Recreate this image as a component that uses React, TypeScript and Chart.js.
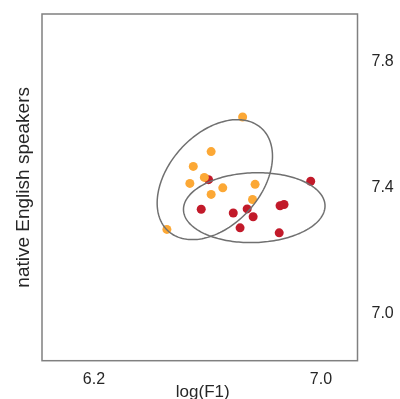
import React, { useEffect, useRef } from "react";
import { Chart, registerables } from "chart.js";
Chart.register(...registerables);

const orangeX = [6.724, 6.613, 6.55, 6.589, 6.538, 6.654, 6.768, 6.613, 6.759, 6.457];
const orangeY = [7.619, 7.509, 7.462, 7.427, 7.408, 7.394, 7.405, 7.373, 7.357, 7.262];
const redX = [6.604, 6.964, 6.578, 6.691, 6.74, 6.761, 6.715, 6.856, 6.87, 6.853];
const redY = [7.42, 7.415, 7.326, 7.314, 7.327, 7.302, 7.267, 7.337, 7.341, 7.251];
const xTicks = [6.2, 7.0];
const yTicks = [7.0, 7.4, 7.8];
const xLabel = "log(F1)";
const yLabel = "native English speakers";
// ellipses: center x, center y, spread x, spread y, correlation
const ellipseOrange = [6.626, 7.42, 0.2033, 0.1905, 0.39];
const ellipseRed = [6.765, 7.331, 0.2495, 0.111, 0.05];
const xRange = [6.0167, 7.129];
const yRange = [6.845, 7.946];

const ORANGE = "#fca835";
const RED = "#c21a2a";
const TEXT = "#262626";
const FONT = "'Liberation Sans', Arial, sans-serif";

const overlay = {
  id: "overlay",
  afterDatasetsDraw(chart: any) {
    const { ctx, chartArea, scales } = chart;
    const xs = scales.x;
    const ys = scales.y;
    ctx.save();
    ctx.beginPath();
    ctx.rect(chartArea.left, chartArea.top, chartArea.right - chartArea.left, chartArea.bottom - chartArea.top);
    ctx.clip();
    for (const e of [ellipseOrange, ellipseRed]) {
      const [cx, cy, sx, sy, r] = e;
      ctx.beginPath();
      const n = 200;
      for (let i = 0; i <= n; i++) {
        const t = (i / n) * Math.PI * 2;
        const dx = cx + sx * Math.cos(t);
        const dy = cy + sy * (r * Math.cos(t) + Math.sqrt(1 - r * r) * Math.sin(t));
        const px = xs.getPixelForValue(dx);
        const py = ys.getPixelForValue(dy);
        if (i === 0) ctx.moveTo(px, py);
        else ctx.lineTo(px, py);
      }
      ctx.closePath();
      ctx.strokeStyle = "#707070";
      ctx.lineWidth = 1.5;
      ctx.stroke();
    }
    ctx.restore();

    ctx.save();
    ctx.strokeStyle = "#808080";
    ctx.lineWidth = 1.5;
    ctx.strokeRect(chartArea.left, chartArea.top, chartArea.right - chartArea.left, chartArea.bottom - chartArea.top);
    ctx.fillStyle = TEXT;
    ctx.font = `17px ${FONT}`;
    ctx.textAlign = "center";
    ctx.textBaseline = "middle";
    ctx.fillText(xLabel, (chartArea.left + chartArea.right) / 2 + 3, 392);
    ctx.translate(24, (chartArea.top + chartArea.bottom) / 2);
    ctx.rotate(-Math.PI / 2);
    ctx.font = `19px ${FONT}`;
    ctx.fillText(yLabel, 0, 0);
    ctx.restore();
  },
};

export default function App() {
  const ref = useRef<HTMLCanvasElement>(null);
  useEffect(() => {
    if (!ref.current) return;
    const chart = new Chart(ref.current, {
      type: "scatter",
      data: {
        datasets: [
          {
            label: "orange",
            data: orangeX.map((x, i) => ({ x, y: orangeY[i] })),
            backgroundColor: ORANGE,
            borderWidth: 0,
            pointRadius: 4.5,
          },
          {
            label: "red",
            data: redX.map((x, i) => ({ x, y: redY[i] })),
            backgroundColor: RED,
            borderWidth: 0,
            pointRadius: 4.5,
          },
        ],
      },
      options: {
        responsive: false,
        animation: false,
        devicePixelRatio: 1,
        layout: { padding: { left: 42, top: 14, right: 0, bottom: 0 } },
        plugins: { legend: { display: false }, tooltip: { enabled: false } },
        scales: {
          x: {
            type: "linear",
            min: xRange[0],
            max: xRange[1],
            grid: { display: false, drawTicks: false },
            border: { display: false },
            ticks: {
              color: TEXT,
              font: { size: 16, family: FONT },
              padding: 9,
              maxRotation: 0,
              autoSkip: false,
              callback: (v: any) => Number(v).toFixed(1),
            },
            afterBuildTicks: (s: any) => {
              s.ticks = xTicks.map((v) => ({ value: v }));
            },
            afterFit: (s: any) => {
              s.height = 38.3;
              s.paddingLeft = 0;
              s.paddingRight = 0;
              s.paddingTop = 0;
              s.paddingBottom = 0;
            },
          },
          y: {
            type: "linear",
            position: "right",
            min: yRange[0],
            max: yRange[1],
            grid: { display: false, drawTicks: false },
            border: { display: false },
            ticks: {
              color: TEXT,
              font: { size: 16, family: FONT },
              padding: 14,
              labelOffset: 2,
              autoSkip: false,
              callback: (v: any) => Number(v).toFixed(1),
            },
            afterBuildTicks: (s: any) => {
              s.ticks = yTicks.map((v) => ({ value: v }));
            },
            afterFit: (s: any) => {
              s.width = 42.5;
              s.paddingLeft = 0;
              s.paddingRight = 0;
              s.paddingTop = 0;
              s.paddingBottom = 0;
            },
          },
        },
      },
      plugins: [overlay],
    });
    return () => chart.destroy();
  }, []);
  return (
    <div style={{ position: "fixed", left: 0, top: 0, width: 400, height: 399, background: "#fff" }}>
      <canvas ref={ref} width={400} height={399} style={{ display: "block" }} />
    </div>
  );
}
